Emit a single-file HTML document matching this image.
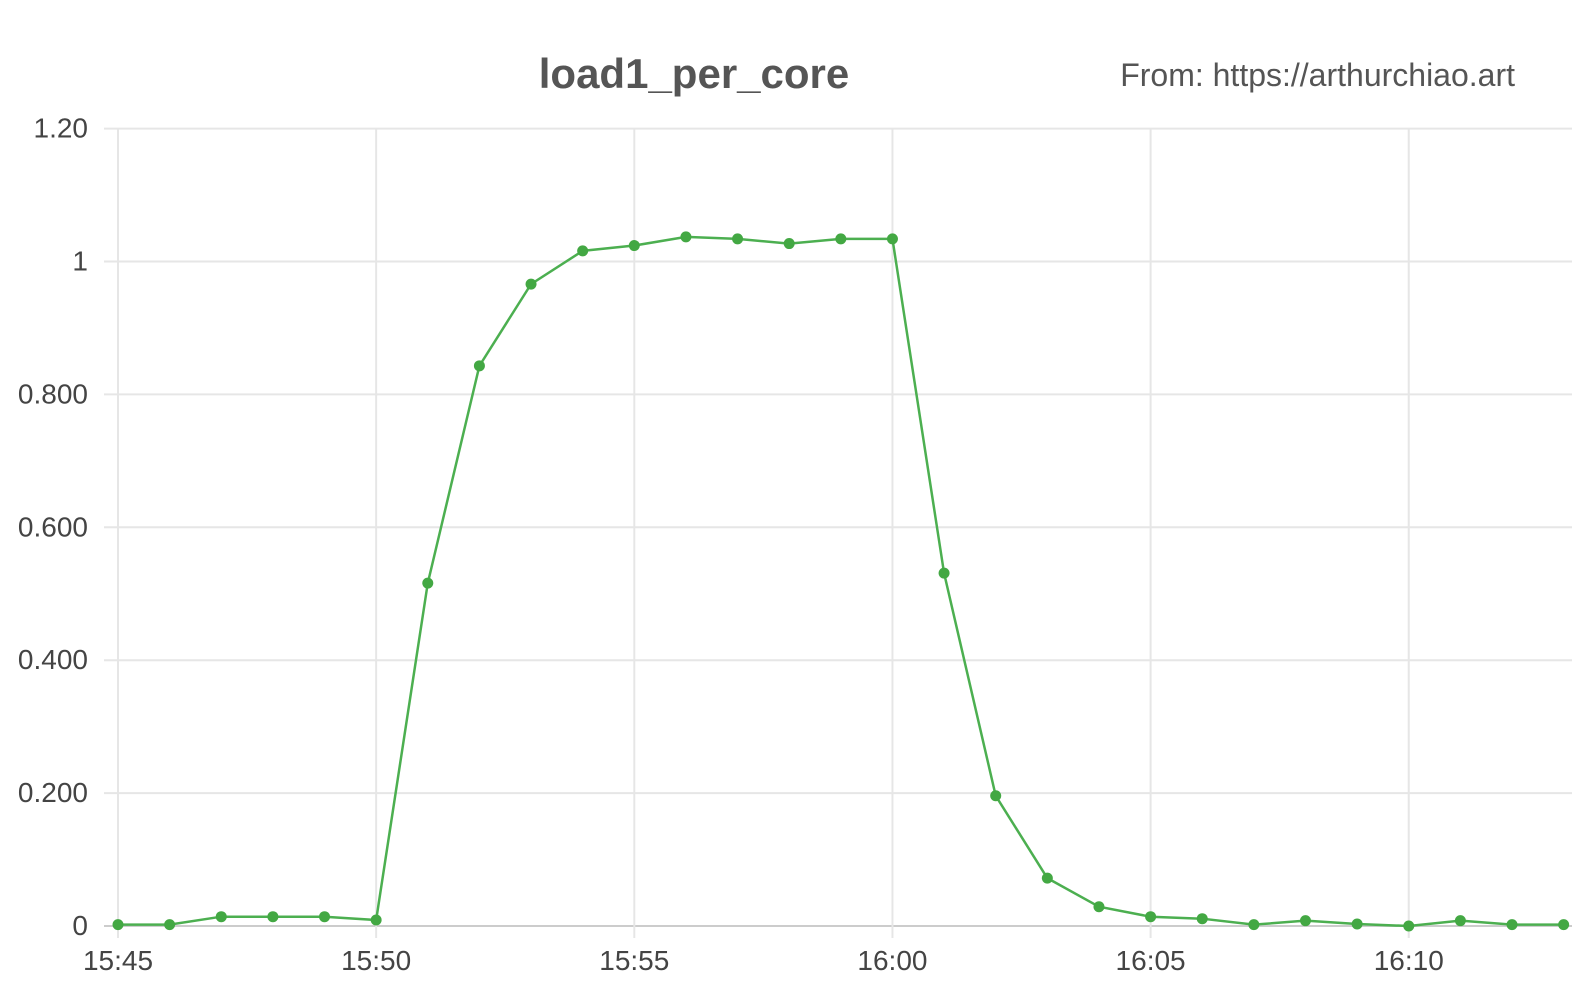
<!DOCTYPE html>
<html><head><meta charset="utf-8">
<style>
html,body{margin:0;padding:0;background:#fff;}
body{width:1572px;height:989px;overflow:hidden;font-family:"Liberation Sans","DejaVu Sans",sans-serif;}
</style></head>
<body>
<svg id="chart" width="1572" height="989" xmlns="http://www.w3.org/2000/svg">
<text x="694" y="88" text-anchor="middle" font-size="42" font-weight="bold" fill="#555" font-family="Liberation Sans, sans-serif">load1_per_core</text>
<text x="1515" y="86" text-anchor="end" font-size="32" fill="#555" font-family="Liberation Sans, sans-serif">From: https://arthurchiao.art</text>
<g id="grid"></g><g id="axes"></g><g id="series"></g>
</svg>
<script>
const minutes = [0,1,2,3,4,5,6,7,8,9,10,11,12,13,14,15,16,17,18,19,20,21,22,23,24,25,26,27,28];
const values = [0.002,0.002,0.014,0.014,0.014,0.009,0.516,0.843,0.966,1.016,1.024,1.037,1.034,1.027,1.034,1.034,0.531,0.196,0.072,0.029,0.014,0.011,0.002,0.008,0.003,0.0,0.008,0.002,0.002];
const yTicks = [0,0.2,0.4,0.6,0.8,1,1.2];
const yTickLabels = ["0","0.200","0.400","0.600","0.800","1","1.20"];
const xTicks = [0,5,10,15,20,25];
const xTickLabels = ["15:45","15:50","15:55","16:00","16:05","16:10"];

const NS="http://www.w3.org/2000/svg";
const x0=118, pxPerMin=51.63, y0=926, pxPerUnit=664.5;
function xs(m){return x0+m*pxPerMin;}
function ys(v){return y0-v*pxPerUnit;}
function mk(tag,attrs,parent){const e=document.createElementNS(NS,tag);for(const k in attrs)e.setAttribute(k,attrs[k]);parent.appendChild(e);return e;}
const grid=document.getElementById('grid'), axes=document.getElementById('axes'), series=document.getElementById('series');

yTicks.forEach((t,i)=>{
  const l=mk('line',{x1:x0-14,x2:1572,y1:ys(t),y2:ys(t),stroke:i===0?'#ccc':'#e6e6e6','stroke-width':2},grid);
  
  
  const tx=mk('text',{x:88,y:ys(t)+9,'text-anchor':'end','font-size':28,fill:'#444'},axes);
  tx.textContent=yTickLabels[i];
  
  
});
xTicks.forEach((t,i)=>{
  const l=mk('line',{x1:xs(t),x2:xs(t),y1:ys(1.2),y2:y0+12,stroke:'#e6e6e6','stroke-width':2},grid);
  
  
  const tx=mk('text',{x:xs(t),y:970,'text-anchor':'middle','font-size':28,fill:'#444'},axes);
  tx.textContent=xTickLabels[i];
  
  
});
const pts=minutes.map((m,i)=>xs(m)+','+ys(values[i])).join(' ');
const pl=mk('polyline',{points:pts,fill:'none',stroke:'#4caf50','stroke-width':2.5},series);


minutes.forEach((m,i)=>{
  const c=mk('circle',{cx:xs(m),cy:ys(values[i]),r:5.5,fill:'#43a843'},series);
  
  
});
</script>
</body></html>
